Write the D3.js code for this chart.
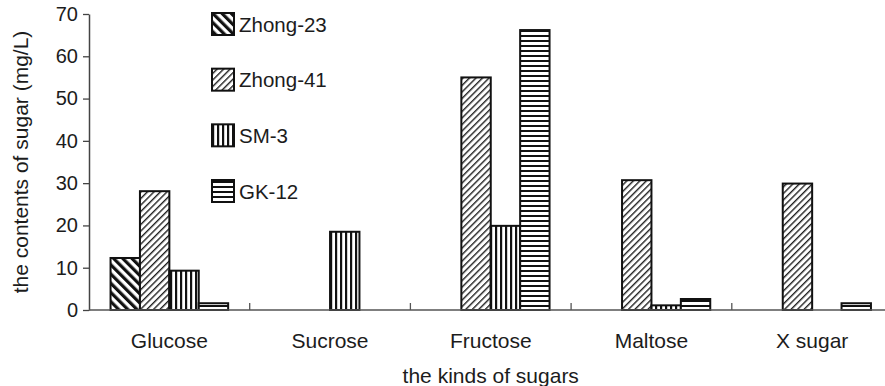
<!DOCTYPE html>
<html>
<head>
<meta charset="utf-8">
<script src="https://cdn.jsdelivr.net/npm/d3@7"></script>
<style>
  html, body { margin: 0; padding: 0; background: #fff; }
  svg { display: block; font-family: "Liberation Sans", Arial, sans-serif; }
</style>
</head>
<body>
<svg id="chart" width="885" height="386"></svg>
<script>
const categories = ["Glucose", "Sucrose", "Fructose", "Maltose", "X sugar"];
const series = ["Zhong-23", "Zhong-41", "SM-3", "GK-12"];
const zhong23 = [12.3, 0, 0, 0, 0];
const zhong41 = [28.1, 0, 55.0, 30.7, 29.9];
const sm3 = [9.3, 18.5, 19.9, 1.1, 0];
const gk12 = [1.6, 0, 66.2, 2.6, 1.6];
const yTicks = [0, 10, 20, 30, 40, 50, 60, 70];
const xTitle = "the kinds of sugars";
const yTitle = "the contents of sugar (mg/L)";

const values = [zhong23, zhong41, sm3, gk12];
const svg = d3.select("#chart");
const ink = "#1c1c1c";

// patterns
const defs = svg.append("defs");
function stripePattern(id, period, width, angle, color) {
  const p = defs.append("pattern")
    .attr("id", id)
    .attr("patternUnits", "userSpaceOnUse")
    .attr("width", period).attr("height", period)
    .attr("patternTransform", `rotate(${angle})`);
  p.append("rect").attr("width", period).attr("height", period).attr("fill", "#fff");
  p.append("rect").attr("x", 0).attr("y", 0).attr("width", width).attr("height", period).attr("fill", color);
}
stripePattern("p0", 6.5, 3.2, -45, "#111");
stripePattern("p1", 4.6, 1.4, 45, "#222");
stripePattern("p2", 5, 2.2, 0, "#111");
stripePattern("p3", 5, 2.0, 90, "#111");
const fills = ["url(#p0)", "url(#p1)", "url(#p2)", "url(#p3)"];

const y = d3.scaleLinear().domain([0, 70]).range([310, 14]);
const x0 = d3.scaleBand().domain(categories).range([89, 892.5]).padding(0);
const x1 = d3.scaleBand().domain(series).range([0, x0.bandwidth()]).paddingInner(0).paddingOuter(0.733);

// bars
const data = [];
categories.forEach((c, i) => series.forEach((s, j) => {
  if (values[j][i] > 0) data.push({c, s, j, v: values[j][i]});
}));
svg.append("g").selectAll("rect").data(data).join("rect")
  .attr("x", d => x0(d.c) + x1(d.s))
  .attr("y", d => y(d.v))
  .attr("width", x1.bandwidth())
  .attr("height", d => y(0) - y(d.v))
  .attr("fill", d => fills[d.j])
  .attr("stroke", "#111")
  .attr("stroke-width", 2);

// y axis
const yAxis = svg.append("g").attr("transform", "translate(89,0)")
  .call(d3.axisLeft(y).tickValues(yTicks).tickSize(6).tickSizeOuter(0).tickPadding(5));
yAxis.select(".domain").attr("stroke", "#444").attr("stroke-width", 1.5);
yAxis.selectAll(".tick line").attr("stroke", "#444").attr("stroke-width", 1.3);
yAxis.selectAll(".tick text").attr("font-size", 20).attr("fill", ink)
  .attr("font-family", "Liberation Sans, Arial, sans-serif");

// x axis
svg.append("line").attr("x1", 89).attr("x2", 885).attr("y1", y(0)).attr("y2", y(0))
  .attr("stroke", "#555").attr("stroke-width", 1.6);
svg.append("g").selectAll("line").data(categories.slice(1)).join("line")
  .attr("x1", d => x0(d)).attr("x2", d => x0(d))
  .attr("y1", y(0)).attr("y2", y(0) - 7)
  .attr("stroke", "#555").attr("stroke-width", 1.3);
svg.append("g").selectAll("text").data(categories).join("text")
  .attr("x", d => x0(d) + x0.bandwidth() / 2)
  .attr("y", 348)
  .attr("text-anchor", "middle")
  .attr("font-size", 21).attr("fill", ink)
  .text(d => d);

// titles
svg.append("text").attr("x", (89 + 892.5) / 2).attr("y", 383)
  .attr("text-anchor", "middle").attr("font-size", 21).attr("fill", ink).text(xTitle);
svg.append("text").attr("transform", `translate(28,${(y(0) + y(70)) / 2}) rotate(-90)`)
  .attr("text-anchor", "middle").attr("font-size", 21).attr("fill", ink).text(yTitle);

// legend
const legendY = d3.scalePoint().domain(series).range([24, 191]);
const lg = svg.append("g").selectAll("g").data(series).join("g")
  .attr("transform", d => `translate(212,${legendY(d)})`);
lg.append("rect").attr("x", 0).attr("y", -11).attr("width", 22).attr("height", 22)
  .attr("fill", (d, i) => fills[i]).attr("stroke", "#111").attr("stroke-width", 2);
lg.append("text").attr("x", 27).attr("y", 7.5).attr("font-size", 20.5).attr("fill", ink).text(d => d);
</script>
</body>
</html>
